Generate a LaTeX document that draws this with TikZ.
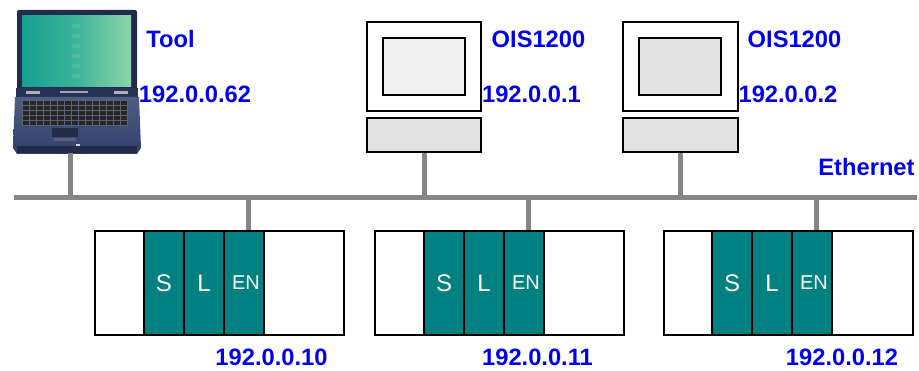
\documentclass[tikz,border=0pt]{standalone}
\usepackage{fontspec}
\setmainfont{Liberation Sans}
\begin{document}
\definecolor{netblue}{RGB}{0,0,235}
\definecolor{busgray}{RGB}{134,134,134}
\definecolor{modteal}{RGB}{0,128,128}
\definecolor{lapbody}{RGB}{48,64,108}
\definecolor{lapdark}{RGB}{34,44,74}
\definecolor{scrteal}{RGB}{22,160,146}
\definecolor{scrmid}{RGB}{60,180,150}
\definecolor{scrmint}{RGB}{140,212,172}
\begin{tikzpicture}[x=1pt,y=-1pt,
  lbl/.style={text=netblue,font=\fontsize{23.7}{26}\selectfont\bfseries,inner sep=0pt,text depth=0pt,anchor=base},
  bus/.style={draw=busgray,line width=5pt},
  drop/.style={draw=busgray,line width=5pt},
  rack/.style={draw=black,line width=2pt,fill=white,minimum width=249pt,minimum height=104pt,inner sep=0pt,anchor=north west},
  module/.style={draw=black,line width=2pt,fill=modteal,minimum width=40pt,minimum height=104pt,inner sep=0pt,anchor=north west,text=white,font=\fontsize{24}{26}\selectfont},
  modsmall/.style={module,font=\fontsize{20}{22}\selectfont},
  screenbox/.style={draw=black,line width=2.4pt,fill=white,inner sep=0pt,anchor=north west},
  panel/.style={draw=black,line width=2.4pt,inner sep=0pt,anchor=north west},
]
\useasboundingbox (0,0) rectangle (919,371);

% ---------- laptop ----------
\node[minimum width=128pt,minimum height=145pt,inner sep=0pt,anchor=north west] (laptop) at (13,10) {};
% lid
\fill[lapdark,rounded corners=2pt] (17,10) rectangle (137,94);
\shade[left color=scrteal,right color=scrmint,middle color=scrmid] (22,16) rectangle (131,87);
\foreach \k in {0,...,5}{
  \fill[white,opacity=0.10] (72,{24+\k*10}) rectangle ++(8,4);
}
% hinge strip
\fill[lapbody!80!black] (16,88) rectangle (138,99);
\fill[gray!60] (26,91) rectangle (40,94);
\fill[gray!60] (114,91) rectangle (128,94);
\fill[gray!70] (60,91) rectangle (88,93);
% base
\shade[top color=lapbody!85!white,bottom color=lapbody] (15,97) -- (139,97) -- (141,148) -- (137,154) -- (17,154) -- (13,148) -- cycle;
% keyboard
\fill[gray!55!lapbody] (22,100) rectangle (128,126);
\foreach \r in {0,...,4}{
  \foreach \c in {0,...,14}{
    \fill[black!85] ({23+\c*7},{101+\r*5.1}) rectangle ++(5.6,3.9);
  }
}
% touchpad and buttons
\fill[lapdark] (52,128) rectangle (78,137);
\fill[gray!50!lapbody] (54,138) rectangle (76,141);
% front edge
\fill[lapdark] (17,146) rectangle (137,153);
\fill[gray!30] (76,144) rectangle (80,146);
\coordinate (lapport) at (70,153);

% ---------- operator stations ----------
\node[screenbox,minimum width=114pt,minimum height=89pt] (mon1) at (366,21) {};
\node[panel,fill=black!6,minimum width=82pt,minimum height=57pt] (scr1) at (382,37) {};
\node[panel,fill=black!11,minimum width=114pt,minimum height=34pt] (base1) at (366,117) {};

\node[screenbox,minimum width=115pt,minimum height=89pt] (mon2) at (622,21) {};
\node[panel,fill=black!11,minimum width=82pt,minimum height=57pt] (scr2) at (638,37) {};
\node[panel,fill=black!11,minimum width=115pt,minimum height=34pt] (base2) at (622,117) {};

% ---------- controller racks ----------
\node[rack] (rack1) at (94,230) {};
\node[module] (s1) at (143,230) {S};
\node[module] (l1) at (183,230) {L};
\node[modsmall] (en1) at (223,230) {\hspace*{4pt}EN};

\node[rack] (rack2) at (374,230) {};
\node[module] (s2) at (423,230) {S};
\node[module] (l2) at (463,230) {L};
\node[modsmall] (en2) at (503,230) {\hspace*{4pt}EN};

\node[rack] (rack3) at (663,230) {};
\node[module] (s3) at (711,230) {S};
\node[module] (l3) at (751,230) {L};
\node[modsmall] (en3) at (791,230) {\hspace*{4pt}EN};

% ---------- Ethernet bus and drops ----------
\coordinate (busL) at (14,198);
\coordinate (busR) at (917,198);
\draw[bus] (busL) -- (busR);
\draw[drop] (lapport) -- (lapport |- busL);
\draw[drop] (base1.south) -- (base1.south |- busL);
\draw[drop] (base2.south) -- (base2.south |- busL);
\draw[drop] ([xshift=4pt]en1.north) -- ([xshift=4pt]en1.north |- busL);
\draw[drop] ([xshift=4pt]en2.north) -- ([xshift=4pt]en2.north |- busL);
\draw[drop] ([xshift=4pt]en3.north) -- ([xshift=4pt]en3.north |- busL);

% ---------- labels ----------
\node[lbl] (tool) at (170.5,48) {Tool};
\node[lbl] (iptool) at (195,103) {192.0.0.62};
\node[lbl] (ois1) at (538.5,48) {OIS1200};
\node[lbl] (ip1) at (531.5,103) {192.0.0.1};
\node[lbl] (ois2) at (794.5,48) {OIS1200};
\node[lbl] (ip2) at (788,103) {192.0.0.2};
\node[lbl] (eth) at (866.5,176) {Ethernet};
\node[lbl] (ip10) at (271.5,366) {192.0.0.10};
\node[lbl] (ip11) at (537.5,366) {192.0.0.11};
\node[lbl] (ip12) at (842,366) {192.0.0.12};
\end{tikzpicture}
\end{document}
